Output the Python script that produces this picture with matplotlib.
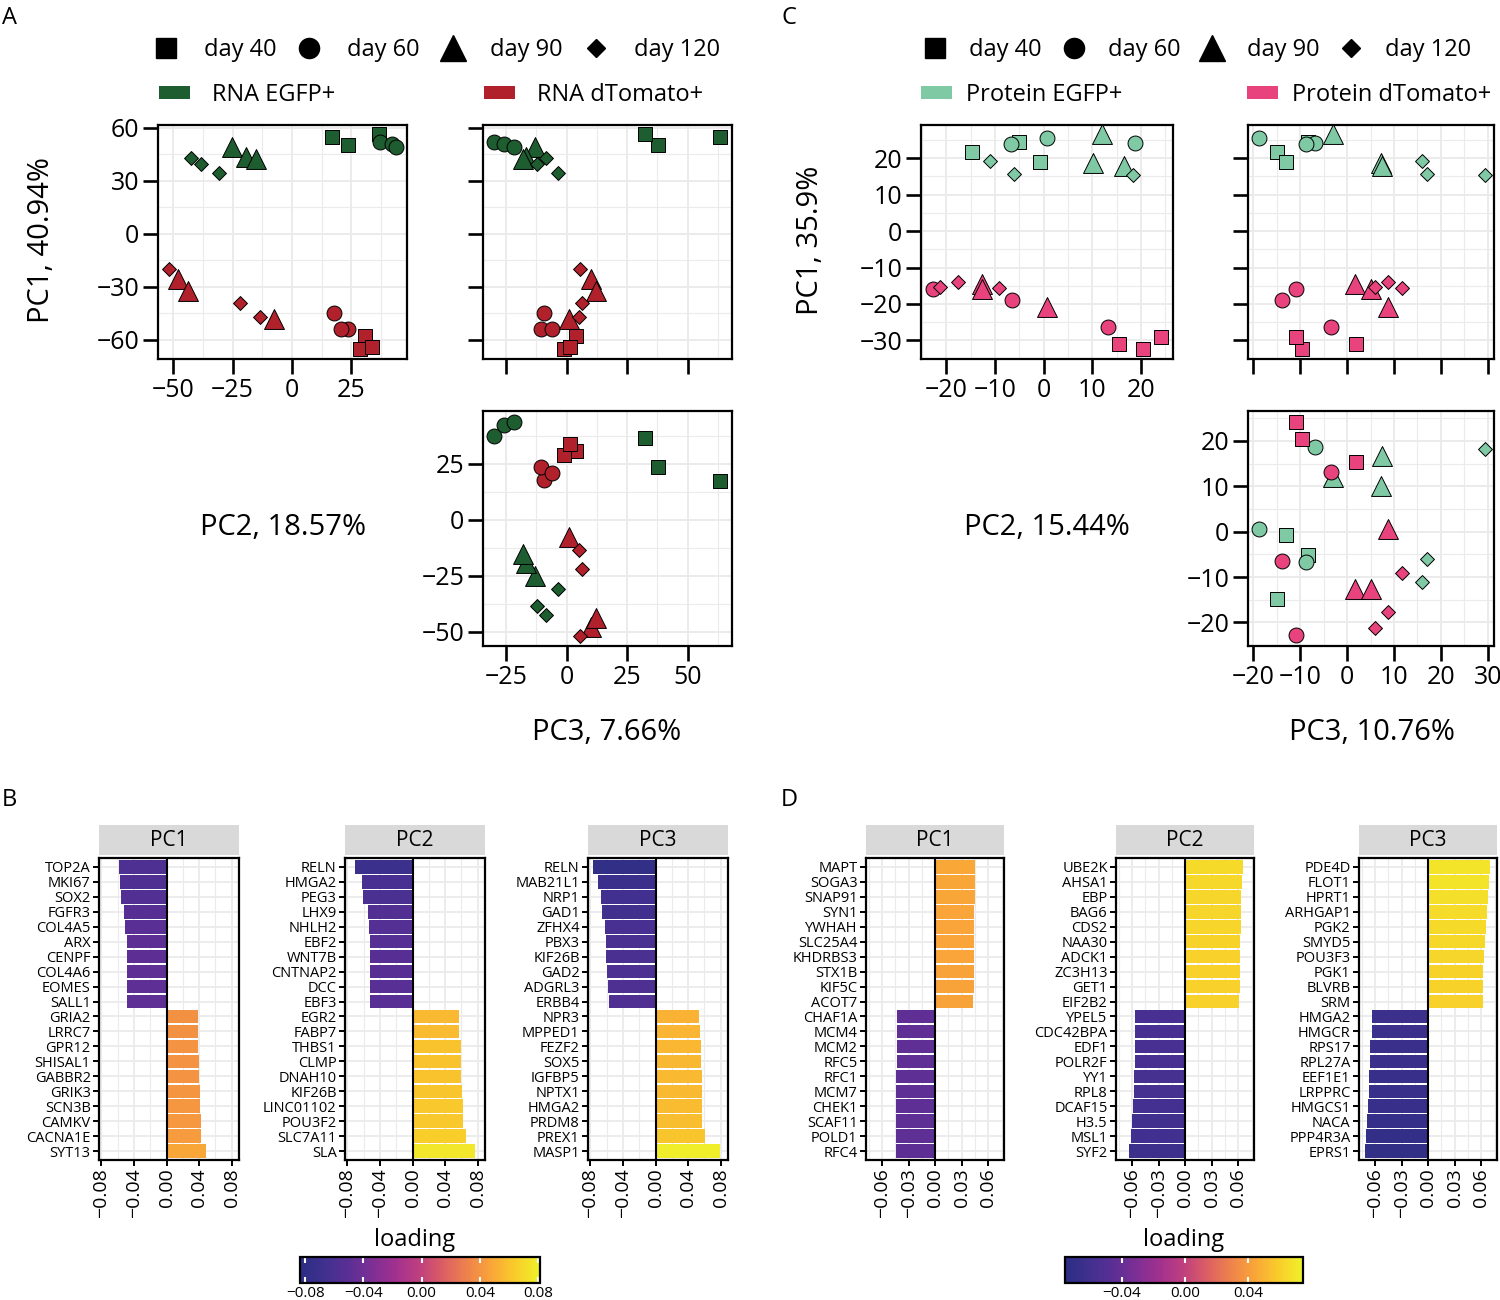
import matplotlib
matplotlib.use('Agg')
import matplotlib.pyplot as plt
import numpy as np
from matplotlib.lines import Line2D
from matplotlib.patches import Patch
from matplotlib.colors import Normalize, LinearSegmentedColormap
from matplotlib.cm import ScalarMappable

plt.rcParams['font.family'] = ['Open Sans', 'DejaVu Sans']
plt.rcParams['axes.unicode_minus'] = True

# ---------------- data ----------------
day_values = [40, 60, 90, 120]
day_labels = ['day 40', 'day 60', 'day 90', 'day 120']

# RNA PCA (panel A)
rna_cell = ['EGFP+'] * 12 + ['dTomato+'] * 12
rna_day = [40, 40, 40, 60, 60, 60, 90, 90, 90, 120, 120, 120,
           40, 40, 40, 60, 60, 60, 90, 90, 90, 120, 120, 120]
rna_pc1 = [54.5, 50.2, 56.2, 51.6, 50.9, 49.3, 48.8, 43.4, 42.0, 42.8, 39.2, 34.3,
           -57.9, -65.1, -64.2, -45.1, -53.8, -53.7, -25.5, -32.6, -48.1, -20.0, -39.1, -47.0]
rna_pc2 = [17.1, 23.7, 36.5, 37.3, 42.3, 43.7, -25.3, -19.3, -15.2, -42.5, -38.4, -30.8,
           30.8, 28.8, 33.9, 17.8, 23.6, 20.7, -48.0, -43.8, -7.7, -51.9, -22.0, -13.6]
rna_pc3 = [63.3, 37.9, 32.2, -29.8, -25.8, -21.6, -13.1, -16.8, -18.0, -8.5, -12.3, -3.6,
           3.9, -0.9, 1.4, -9.4, -10.5, -6.1, 10.0, 12.1, 1.0, 5.4, 6.4, 5.0]

# Protein PCA (panel C)
prot_cell = ['EGFP+'] * 12 + ['dTomato+'] * 12
prot_day = [40, 40, 40, 60, 60, 60, 90, 90, 90, 120, 120, 120,
            40, 40, 40, 60, 60, 60, 90, 90, 90, 120, 120, 120]
prot_pc1 = [21.6, 24.3, 18.9, 25.5, 24.1, 23.8, 26.5, 18.7, 17.8, 19.2, 15.7, 15.5,
            -31.1, -32.4, -29.2, -16.0, -19.0, -26.2, -14.6, -16.0, -20.7, -15.4, -13.9, -15.5]
prot_pc2 = [-14.8, -5.1, -0.7, 0.7, 18.7, -6.6, 12.0, 10.1, 16.6, -11.1, -6.0, 18.3,
            15.4, 20.5, 24.1, -22.8, -6.4, 13.2, -12.7, -12.6, 0.6, -21.2, -17.6, -9.2]
prot_pc3 = [-14.9, -8.3, -13.0, -18.7, -6.9, -8.7, -3.0, 7.3, 7.5, 16.0, 17.0, 29.3,
            2.0, -9.7, -10.8, -10.9, -13.9, -3.5, 1.6, 5.2, 8.7, 6.0, 8.8, 11.7]

# Loadings (panel B, RNA)
b_pc1_genes = ['TOP2A', 'MKI67', 'SOX2', 'FGFR3', 'COL4A5', 'ARX', 'CENPF', 'COL4A6', 'EOMES', 'SALL1',
               'GRIA2', 'LRRC7', 'GPR12', 'SHISAL1', 'GABBR2', 'GRIK3', 'SCN3B', 'CAMKV', 'CACNA1E', 'SYT13']
b_pc1_vals = [-0.0588, -0.0571, -0.0559, -0.0529, -0.0506, -0.0488, -0.0488, -0.0482, -0.0482, -0.0482,
              0.0382, 0.0382, 0.0388, 0.0400, 0.0400, 0.0406, 0.0412, 0.0418, 0.0429, 0.0482]
b_pc2_genes = ['RELN', 'HMGA2', 'PEG3', 'LHX9', 'NHLH2', 'EBF2', 'WNT7B', 'CNTNAP2', 'DCC', 'EBF3',
               'EGR2', 'FABP7', 'THBS1', 'CLMP', 'DNAH10', 'KIF26B', 'LINC01102', 'POU3F2', 'SLC7A11', 'SLA']
b_pc2_vals = [-0.0706, -0.0624, -0.0606, -0.0553, -0.0541, -0.0529, -0.0524, -0.0524, -0.0518, -0.0518,
              0.0565, 0.0571, 0.0600, 0.0600, 0.0600, 0.0612, 0.0624, 0.0624, 0.0653, 0.0765]
b_pc3_genes = ['RELN', 'MAB21L1', 'NRP1', 'GAD1', 'ZFHX4', 'PBX3', 'KIF26B', 'GAD2', 'ADGRL3', 'ERBB4',
               'NPR3', 'MPPED1', 'FEZF2', 'SOX5', 'IGFBP5', 'NPTX1', 'HMGA2', 'PRDM8', 'PREX1', 'MASP1']
b_pc3_vals = [-0.0771, -0.0712, -0.0665, -0.0659, -0.0624, -0.0606, -0.0606, -0.0594, -0.0582, -0.0571,
              0.0529, 0.0547, 0.0553, 0.0559, 0.0565, 0.0565, 0.0571, 0.0576, 0.0612, 0.0788]

# Loadings (panel D, protein)
d_pc1_genes = ['MAPT', 'SOGA3', 'SNAP91', 'SYN1', 'YWHAH', 'SLC25A4', 'KHDRBS3', 'STX1B', 'KIF5C', 'ACOT7',
               'CHAF1A', 'MCM4', 'MCM2', 'RFC5', 'RFC1', 'MCM7', 'CHEK1', 'SCAF11', 'POLD1', 'RFC4']
d_pc1_vals = [0.0451, 0.0446, 0.0446, 0.0441, 0.0441, 0.0441, 0.0441, 0.0436, 0.0436, 0.0431,
              -0.0436, -0.0436, -0.0436, -0.0436, -0.0441, -0.0441, -0.0441, -0.0441, -0.0441, -0.0446]
d_pc2_genes = ['UBE2K', 'AHSA1', 'EBP', 'BAG6', 'CDS2', 'NAA30', 'ADCK1', 'ZC3H13', 'GET1', 'EIF2B2',
               'YPEL5', 'CDC42BPA', 'EDF1', 'POLR2F', 'YY1', 'RPL8', 'DCAF15', 'H3.5', 'MSL1', 'SYF2']
d_pc2_vals = [0.0654, 0.0638, 0.0633, 0.0633, 0.0628, 0.0623, 0.0618, 0.0618, 0.0618, 0.0612,
              -0.0571, -0.0571, -0.0571, -0.0571, -0.0576, -0.0576, -0.0592, -0.0602, -0.0607, -0.0628]
d_pc3_genes = ['PDE4D', 'FLOT1', 'HPRT1', 'ARHGAP1', 'PGK2', 'SMYD5', 'POU3F3', 'PGK1', 'BLVRB', 'SRM',
               'HMGA2', 'HMGCR', 'RPS17', 'RPL27A', 'EEF1E1', 'LRPPRC', 'HMGCS1', 'NACA', 'PPP4R3A', 'EPRS1']
d_pc3_vals = [0.0695, 0.0690, 0.0675, 0.0659, 0.0649, 0.0638, 0.0633, 0.0623, 0.0623, 0.0618,
              -0.0633, -0.0633, -0.0654, -0.0654, -0.0664, -0.0669, -0.0675, -0.0690, -0.0701, -0.0711]

# ---------------- style ----------------
W, H = 1500, 1300
fig = plt.figure(figsize=(15, 13), dpi=100)
fig.patch.set_facecolor('white')

rna_colors = {'EGFP+': '#1e5d2f', 'dTomato+': '#b0212b'}
prot_colors = {'EGFP+': '#7fcaa4', 'dTomato+': '#e9437e'}
day_markers = {40: 's', 60: 'o', 90: '^', 120: 'D'}
day_sizes = {40: 100, 60: 115, 90: 205, 120: 50}
legend_ms = {40: 14, 60: 14.5, 90: 18.5, 120: 8.8}
grid_col = '#ebebeb'
cmap = LinearSegmentedColormap.from_list('muted_plasma', [
    '#2b2e83', '#40308f', '#5a2f95', '#7d2f95', '#a2318e', '#c0407e',
    '#dc6063', '#ef834b', '#f9a638', '#f9cd2a', '#eff12a'])


def add_ax(x0, y0, x1, y1):
    return fig.add_axes([x0 / W, 1 - y1 / H, (x1 - x0) / W, (y1 - y0) / H])


def scatter_panel(box, xs, ys, days, cells, colors, xlim, ylim, xt, xminor, yt, yminor,
                  xlabels=True, ylabels=True):
    ax = add_ax(*box)
    for cell in ['EGFP+', 'dTomato+']:
        for d in day_values:
            idx = [i for i in range(len(xs)) if days[i] == d and cells[i] == cell]
            ax.scatter([xs[i] for i in idx], [ys[i] for i in idx], marker=day_markers[d],
                       s=day_sizes[d], c=colors[cell], edgecolors='black', linewidths=0.7, zorder=3)
    ax.set_xlim(*xlim)
    ax.set_ylim(*ylim)
    ax.set_xticks(xt)
    ax.set_yticks(yt)
    ax.set_xticks(xminor, minor=True)
    ax.set_yticks(yminor, minor=True)
    ax.grid(which='major', color=grid_col, lw=1.4, zorder=0)
    ax.grid(which='minor', color=grid_col, lw=0.8, zorder=0)
    ax.set_axisbelow(True)
    ax.tick_params(which='minor', length=0)
    ax.tick_params(which='major', length=11, width=1.9, color='black', labelsize=18, pad=2.5)
    if not xlabels:
        ax.set_xticklabels([])
    if not ylabels:
        ax.set_yticklabels([])
    for s in ax.spines.values():
        s.set_linewidth(1.6)
    return ax


# ---------------- Panel A ----------------
A_pc1 = (-70.9, 61.5)
A_pc2 = (-56.4, 48.5)
A_pc3 = (-34.5, 68.3)
scatter_panel((158, 125, 407, 359), rna_pc2, rna_pc1, rna_day, rna_cell, rna_colors,
              A_pc2, A_pc1, [-50, -25, 0, 25], [-37.5, -12.5, 12.5, 37.5],
              [-60, -30, 0, 30, 60], [-45, -15, 15, 45])
scatter_panel((483, 125, 732, 359), rna_pc3, rna_pc1, rna_day, rna_cell, rna_colors,
              A_pc3, A_pc1, [-25, 0, 25, 50], [-12.5, 12.5, 37.5, 62.5],
              [-60, -30, 0, 30, 60], [-45, -15, 15, 45], xlabels=False, ylabels=False)
scatter_panel((483, 411, 732, 646), rna_pc3, rna_pc2, rna_day, rna_cell, rna_colors,
              A_pc3, A_pc2, [-25, 0, 25, 50], [-12.5, 12.5, 37.5, 62.5],
              [-50, -25, 0, 25], [-37.5, -12.5, 12.5, 37.5])

# ---------------- Panel C ----------------
C_pc1 = (-35.1, 29.1)
C_pc2 = (-25.2, 26.6)
C_pc3 = (-21.1, 31.3)
scatter_panel((921, 125, 1173, 359), prot_pc2, prot_pc1, prot_day, prot_cell, prot_colors,
              C_pc2, C_pc1, [-20, -10, 0, 10, 20], [-25, -15, -5, 5, 15, 25],
              [-30, -20, -10, 0, 10, 20], [-35, -25, -15, -5, 5, 15, 25])
scatter_panel((1248, 125, 1494, 359), prot_pc3, prot_pc1, prot_day, prot_cell, prot_colors,
              C_pc3, C_pc1, [-20, -10, 0, 10, 20, 30], [-15, -5, 5, 15, 25],
              [-30, -20, -10, 0, 10, 20], [-35, -25, -15, -5, 5, 15, 25],
              xlabels=False, ylabels=False)
scatter_panel((1248, 411, 1494, 646), prot_pc3, prot_pc2, prot_day, prot_cell, prot_colors,
              C_pc3, C_pc2, [-20, -10, 0, 10, 20, 30], [-15, -5, 5, 15, 25],
              [-20, -10, 0, 10, 20], [-25, -15, -5, 5, 15, 25])

# axis titles
title_fs = 21
fig.text(42 / W, 1 - 240 / H, 'PC1, 40.94%', rotation=90, ha='center', va='center', fontsize=title_fs)
fig.text(283 / W, 1 - 528 / H, 'PC2, 18.57%', ha='center', va='center', fontsize=title_fs)
fig.text(607 / W, 1 - 733 / H, 'PC3, 7.66%', ha='center', va='center', fontsize=title_fs)
fig.text(810 / W, 1 - 240 / H, 'PC1, 35.9%', rotation=90, ha='center', va='center', fontsize=title_fs)
fig.text(1047 / W, 1 - 528 / H, 'PC2, 15.44%', ha='center', va='center', fontsize=title_fs)
fig.text(1372 / W, 1 - 733 / H, 'PC3, 10.76%', ha='center', va='center', fontsize=title_fs)

# panel letters
for letter, (px, py) in {'A': (2, 18), 'B': (2, 800), 'C': (781, 18), 'D': (781, 800)}.items():
    fig.text(px / W, 1 - py / H, letter, ha='left', va='center', fontsize=17)


# legends
def shape_legend(x_left, y_center, pad, colsp):
    handles = [Line2D([], [], marker=day_markers[d], color='black', linestyle='None',
                      markersize=legend_ms[d]) for d in day_values]
    fig.legend(handles, day_labels, loc='center left', bbox_to_anchor=(x_left / W, 1 - y_center / H),
               ncol=4, frameon=False, fontsize=17, handlelength=1.0, handletextpad=pad,
               columnspacing=colsp, borderpad=0, borderaxespad=0)


def color_legend(x_left, y_center, colors, labels, pad, colsp):
    handles = [Patch(facecolor=colors[c], edgecolor='none') for c in ['EGFP+', 'dTomato+']]
    fig.legend(handles, labels, loc='center left', bbox_to_anchor=(x_left / W, 1 - y_center / H),
               ncol=2, frameon=False, fontsize=17, handlelength=1.3, handleheight=0.5,
               handletextpad=pad, columnspacing=colsp, borderpad=0, borderaxespad=0)


shape_legend(154, 50, 1.1, 0.9)
color_legend(159, 95, rna_colors, ['RNA EGFP+', 'RNA dTomato+'], 0.95, 6.3)
shape_legend(923, 50, 0.95, 0.85)
color_legend(921, 95, prot_colors, ['Protein EGFP+', 'Protein dTomato+'], 0.6, 5.3)


# ---------------- bar panels ----------------
def bar_facet(x0, x1, genes, vals, title, norm, xlim, ticks, ticklabels, minor):
    sax = add_ax(x0, 825, x1, 855)
    sax.set_facecolor('#d9d9d9')
    sax.set_xticks([])
    sax.set_yticks([])
    for s in sax.spines.values():
        s.set_visible(False)
    sax.text(0.5, 0.5, title, ha='center', va='center', fontsize=15, transform=sax.transAxes)
    ax = add_ax(x0, 858, x1, 1160)
    y = np.arange(len(genes))
    v = np.array(vals)
    ax.barh(y, v, height=0.9, color=cmap(norm(v)), zorder=2)
    ax.axvline(0, color='black', lw=1.5, zorder=3)
    ax.set_ylim(len(genes) - 0.4, -0.6)
    ax.set_yticks(y)
    ax.set_yticklabels(genes, fontsize=10.5)
    ax.set_xlim(*xlim)
    ax.set_xticks(ticks)
    ax.set_xticklabels(ticklabels, rotation=90, fontsize=14)
    ax.set_xticks(minor, minor=True)
    ax.grid(which='major', color=grid_col, lw=1.3, zorder=0)
    ax.grid(which='minor', axis='x', color=grid_col, lw=0.8, zorder=0)
    ax.set_axisbelow(True)
    ax.tick_params(which='minor', length=0)
    ax.tick_params(axis='both', which='major', length=4, width=1.4, pad=2)
    for s in ax.spines.values():
        s.set_linewidth(1.6)
    return ax


normB = Normalize(-0.0835, 0.0812)
normD = Normalize(-0.0762, 0.0749)
B_ticks = [-0.08, -0.04, 0.0, 0.04, 0.08]
B_labels = ['\u22120.08', '\u22120.04', '0.00', '0.04', '0.08']
B_minor = [-0.06, -0.02, 0.02, 0.06]
D_ticks = [-0.06, -0.03, 0.0, 0.03, 0.06]
D_labels = ['\u22120.06', '\u22120.03', '0.00', '0.03', '0.06']
D_minor = [-0.075, -0.045, -0.015, 0.015, 0.045, 0.075]
B_xlim = (-0.083, 0.089)
D_xlim = (-0.078, 0.0776)

bar_facet(99, 239, b_pc1_genes, b_pc1_vals, 'PC1', normB, B_xlim, B_ticks, B_labels, B_minor)
bar_facet(345, 485, b_pc2_genes, b_pc2_vals, 'PC2', normB, B_xlim, B_ticks, B_labels, B_minor)
bar_facet(588, 728, b_pc3_genes, b_pc3_vals, 'PC3', normB, B_xlim, B_ticks, B_labels, B_minor)
bar_facet(866, 1004, d_pc1_genes, d_pc1_vals, 'PC1', normD, D_xlim, D_ticks, D_labels, D_minor)
bar_facet(1116, 1254, d_pc2_genes, d_pc2_vals, 'PC2', normD, D_xlim, D_ticks, D_labels, D_minor)
bar_facet(1359, 1497, d_pc3_genes, d_pc3_vals, 'PC3', normD, D_xlim, D_ticks, D_labels, D_minor)


def colorbar(box, norm, ticks, labels, title_x):
    cax = add_ax(*box)
    cb = fig.colorbar(ScalarMappable(norm=norm, cmap=cmap), cax=cax, orientation='horizontal')
    cb.set_ticks(ticks)
    cb.set_ticklabels(labels)
    cax.tick_params(axis='x', direction='in', color='white', length=4, width=1.5,
                    top=True, bottom=True, labelbottom=True, labelsize=11, pad=2)
    cb.outline.set_linewidth(1.6)
    fig.text(title_x / W, 1 - 1240 / H, 'loading', ha='center', va='center', fontsize=17)


colorbar((300, 1257, 540, 1283), normB, B_ticks, B_labels, 415)
colorbar((1065, 1257, 1303, 1283), normD, [-0.04, 0.0, 0.04], ['\u22120.04', '0.00', '0.04'], 1184)

fig.savefig('out.png', dpi=100, facecolor='white')
